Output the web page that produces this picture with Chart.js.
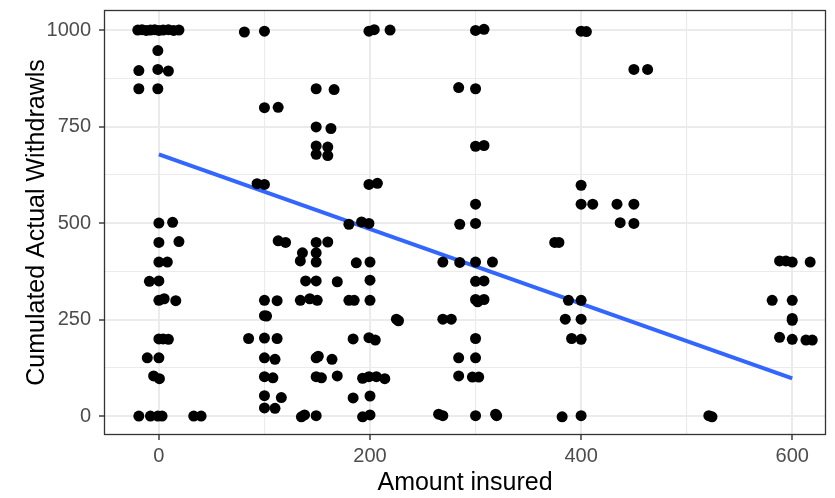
<!DOCTYPE html>
<html>
<head>
<meta charset="utf-8">
<title>Withdrawals vs amount insured</title>
<script src="https://cdn.jsdelivr.net/npm/chart.js@4/dist/chart.umd.min.js"></script>
<style>
  html, body { margin: 0; padding: 0; background: #ffffff; }
  #wrap { width: 835px; height: 498px; }
</style>
</head>
<body>
<div id="wrap"><canvas id="scatter" width="835" height="498"></canvas></div>
<script>
// amount insured (x) and cumulated withdrawals (y), jittered as plotted
var insured = [
    -20, -16, -12, -8, -4, 0, 4, 9, 14, 19,
    -1, -19, -1, 9, -19, -1,
    0, 13, 0, 19, 0, 8, -9, 0, 0, 5, 16, 0, 4, 9, -11, 0, -5, 0.5,
    -19, -8, -1, 3, 33, 40,
    81, 100, 100, 113, 93, 100, 113, 120, 100, 112, 100, 102,
    85, 100, 112, 100, 110, 100, 108, 100, 116, 100, 110,
    149, 166, 149, 163, 149, 160, 149, 160, 149, 160, 136, 134, 149, 149,
    139, 149, 169, 134, 143, 150, 149, 151, 164, 149, 154, 169, 135, 138, 149,
    199, 204, 219, 199, 207, 180, 192, 199, 187, 200, 200, 180, 185, 200,
    225, 227, 184, 199, 205, 193, 199, 206, 214, 184, 200, 193, 200,
    300, 308, 284, 300, 300, 308, 300, 285, 300, 269, 285, 300, 316,
    300, 308, 300, 308, 302, 269, 277, 300, 284, 300, 284, 297, 303,
    265, 269, 300, 319, 320,
    400, 405, 400, 400, 411, 375, 379, 388, 400, 385, 400, 391, 400, 382, 400,
    450, 463, 434, 450, 437, 450,
    521, 524,
    588, 594, 600, 617, 581, 600, 600, 600, 588, 600, 613, 619
];
var withdrawals = [
    1000, 1001, 999, 1000, 1001, 999, 1000, 1001, 999, 1000,
    947, 895, 898, 894, 848, 848,
    500, 502, 450, 452, 399, 399, 349, 350, 300, 304, 299, 200, 200, 199, 151, 151, 104, 97,
    0, 0, 0, 0, 0, 0,
    995, 997, 799, 800, 602, 600, 454, 450, 300, 299, 260, 259,
    201, 202, 201, 151, 147, 102, 99, 53, 48, 21, 20,
    848, 846, 749, 745, 700, 697, 678, 675, 450, 451, 423, 402, 423, 399,
    350, 350, 348, 300, 304, 300, 151, 155, 147, 102, 99, 104, -2, 3, 1,
    997, 1001, 1000, 600, 603, 497, 503, 499, 397, 399, 352, 300, 300, 300,
    251, 247, 200, 203, 197, 98, 102, 102, 97, 47, 52, -2, 3,
    999, 1002, 851, 848, 699, 701, 549, 497, 499, 399, 398, 399, 399,
    349, 350, 302, 302, 296, 251, 251, 201, 151, 151, 104, 101, 101,
    5, 1, 1, 5, 1,
    997, 996, 598, 549, 549, 450, 450, 300, 300, 251, 251, 201, 199, -2, 1,
    898, 898, 549, 549, 501, 499,
    1, -2,
    402, 402, 399, 399, 300, 300, 253, 248, 204, 199, 197, 197
];

// linear fit, drawn between its end points
var fitX = [0, 600];
var fitY = [678, 97.5];

var xTicks = [0, 100, 200, 300, 400, 500, 600];
var yTicks = [0, 125, 250, 375, 500, 625, 750, 875, 1000];

var points = insured.map(function (v, i) { return { x: v, y: withdrawals[i] }; });
var fitLine = fitX.map(function (v, i) { return { x: v, y: fitY[i] }; });

var FONT = "'Liberation Sans', Arial, Helvetica, sans-serif";

// panel border on top of everything, like theme_bw
var panelBorder = {
    id: 'panelBorder',
    afterDraw: function (chart) {
        var a = chart.chartArea, ctx = chart.ctx;
        ctx.save();
        ctx.strokeStyle = '#333333';
        ctx.lineWidth = 1.3;
        ctx.strokeRect(Math.round(a.left) + 0.5, Math.round(a.top) + 0.5,
            Math.round(a.right - a.left) - 1, Math.round(a.bottom - a.top) - 1);
        ctx.restore();
    }
};

function gridOpts(majorStep) {
    return {
        color: '#ebebeb',
        lineWidth: function (c) { return c.tick && c.tick.value % majorStep === 0 ? 2 : 1.1; },
        drawTicks: true,
        tickLength: 5,
        tickWidth: 1.4,
        tickColor: function (c) { return c.tick && c.tick.value % majorStep === 0 ? '#333333' : 'rgba(0,0,0,0)'; }
    };
}

new Chart(document.getElementById('scatter').getContext('2d'), {
    type: 'scatter',
    data: {
        datasets: [{
            label: 'withdrawals',
            data: points,
            backgroundColor: '#000000',
            borderWidth: 0,
            pointRadius: 5.5,
            pointHoverRadius: 5.5
        }, {
            type: 'line',
            label: 'fit',
            data: fitLine,
            borderColor: '#3366FF',
            borderWidth: 4,
            pointRadius: 0,
            fill: false,
            tension: 0
        }]
    },
    options: {
        responsive: false,
        animation: false,
        devicePixelRatio: 1,
        layout: { padding: { left: 0, top: 10, right: 9, bottom: 0 } },
        plugins: {
            legend: { display: false },
            tooltip: { enabled: false }
        },
        scales: {
            x: {
                type: 'linear',
                min: -52,
                max: 632,
                afterBuildTicks: function (scale) {
                    scale.ticks = xTicks.map(function (v) { return { value: v }; });
                },
                afterFit: function (scale) {
                    scale.height = 63;
                    scale.paddingLeft = 0;
                    scale.paddingRight = 0;
                },
                grid: gridOpts(200),
                border: { display: false },
                ticks: {
                    autoSkip: false,
                    maxRotation: 0,
                    padding: 4,
                    color: '#4d4d4d',
                    font: { family: FONT, size: 20 },
                    callback: function (v) { return v % 200 === 0 ? String(v) : ''; }
                },
                title: {
                    display: true,
                    text: 'Amount insured',
                    color: '#000000',
                    font: { family: FONT, size: 25 },
                    padding: { top: 0, bottom: 0 }
                }
            },
            y: {
                type: 'linear',
                min: -49,
                max: 1052,
                afterBuildTicks: function (scale) {
                    scale.ticks = yTicks.map(function (v) { return { value: v }; });
                },
                afterFit: function (scale) {
                    scale.width = 104;
                    scale.paddingTop = 0;
                    scale.paddingBottom = 0;
                },
                grid: gridOpts(250),
                border: { display: false },
                ticks: {
                    autoSkip: false,
                    padding: 8,
                    color: '#4d4d4d',
                    font: { family: FONT, size: 20 },
                    callback: function (v) { return v % 250 === 0 ? String(v) : ''; }
                },
                title: {
                    display: true,
                    text: 'Cumulated Actual Withdrawls',
                    color: '#000000',
                    font: { family: FONT, size: 25 },
                    padding: { top: 22, bottom: 0 }
                }
            }
        }
    },
    plugins: [panelBorder]
});
</script>
</body>
</html>
